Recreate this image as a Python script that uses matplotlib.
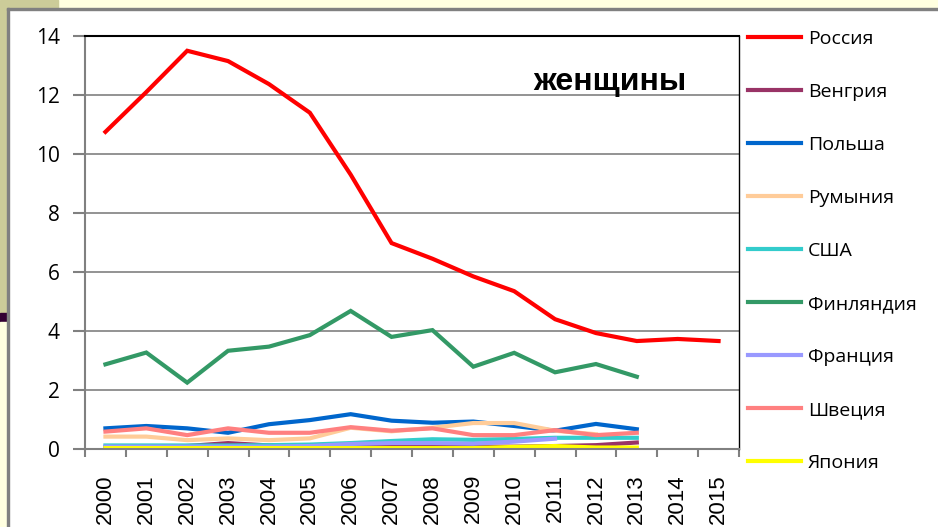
import numpy as np
import matplotlib
matplotlib.use('Agg')
import matplotlib.pyplot as plt
from matplotlib.patches import Rectangle

years = ['2000', '2001', '2002', '2003', '2004', '2005', '2006', '2007',
         '2008', '2009', '2010', '2011', '2012', '2013', '2014', '2015']

# значения (женщины)
rossiya = [10.75, 12.1, 13.5, 13.15, 12.37, 11.4, 9.3, 6.98, 6.45, 5.85, 5.35, 4.4, 3.93, 3.66, 3.73, 3.66]
vengriya = [0.05, 0.05, 0.1, 0.2, 0.12, 0.1, 0.1, 0.08, 0.08, 0.08, 0.08, 0.1, 0.13, 0.22]
polsha = [0.7, 0.78, 0.7, 0.55, 0.84, 0.98, 1.18, 0.96, 0.89, 0.93, 0.78, 0.62, 0.85, 0.67]
rumyniya = [0.42, 0.42, 0.3, 0.36, 0.3, 0.36, 0.72, 0.6, 0.72, 0.88, 0.88, 0.62, 0.5]
ssha = [0.12, 0.12, 0.12, 0.12, 0.13, 0.15, 0.2, 0.27, 0.33, 0.31, 0.34, 0.38, 0.38, 0.38]
finlyandiya = [2.87, 3.27, 2.25, 3.33, 3.47, 3.86, 4.68, 3.8, 4.03, 2.79, 3.26, 2.6, 2.88, 2.45]
frantsiya = [0.08, 0.08, 0.08, 0.08, 0.08, 0.1, 0.17, 0.2, 0.2, 0.18, 0.25, 0.35]
shvetsiya = [0.59, 0.7, 0.47, 0.7, 0.55, 0.55, 0.74, 0.62, 0.7, 0.47, 0.47, 0.64, 0.47, 0.55]
yaponiya = [0.03, 0.03, 0.03, 0.03, 0.03, 0.03, 0.03, 0.03, 0.03, 0.03, 0.07, 0.1, 0.05, 0.05]

series = [
    ('Россия', rossiya, '#ff0000'),
    ('Венгрия', vengriya, '#993366'),
    ('Польша', polsha, '#0066cc'),
    ('Румыния', rumyniya, '#ffcc99'),
    ('США', ssha, '#33cccc'),
    ('Финляндия', finlyandiya, '#339966'),
    ('Франция', frantsiya, '#9999ff'),
    ('Швеция', shvetsiya, '#ff8080'),
    ('Япония', yaponiya, '#ffff00'),
]

W, H = 938, 527
fig = plt.figure(figsize=(W / 100, H / 100), dpi=100)
fig.patch.set_facecolor('white')

def px_rect(x0, y0, x1, y1, color):
    # прямоугольник фона слайда в пикселях (y сверху)
    fig.patches.append(Rectangle((x0 / W, 1 - y1 / H), (x1 - x0) / W, (y1 - y0) / H,
                                 transform=fig.transFigure, color=color, zorder=0))

px_rect(58, 0, W, 8, '#ffffe0')
px_rect(0, 0, 58, 8, '#cccc99')
px_rect(0, 8, 7, 313, '#cccc99')
px_rect(0, 313, 7, 322, '#330033')
px_rect(0, 322, 7, H, '#ffffe0')
px_rect(7, 8, W, 10, '#808080')
px_rect(7, 8, 9, H, '#808080')

ax = fig.add_axes([85 / W, 1 - 449 / H, (739 - 85) / W, (449 - 36) / H])
ax.set_facecolor('none')

x = np.arange(len(years))
for name, vals, col in series:
    ax.plot(x[:len(vals)], vals, color=col, lw=3, label=name, solid_joinstyle='miter')

ax.set_xlim(-0.5, len(years) - 0.5)
ax.set_ylim(0, 14)
ax.set_yticks(np.arange(0, 15, 2))
ax.yaxis.grid(True, color='#808080', lw=1.2)
ax.set_axisbelow(True)

ax.set_xticks(x)
ax.set_xticklabels(years, rotation=90, fontsize=16, family='Liberation Sans')
ax.set_xticks(np.arange(-0.5, len(years)), minor=True)
ax.tick_params(axis='x', which='major', length=0, pad=18)
ax.tick_params(axis='x', which='minor', length=6, width=1.5, color='#808080')
ax.tick_params(axis='y', length=9, width=1.5, color='#808080', pad=9)
for lab in ax.get_yticklabels():
    lab.set_fontsize(15)
    lab.set_family('Open Sans')

ax.spines['left'].set_color('#808080')
ax.spines['bottom'].set_color('#808080')
ax.spines['left'].set_linewidth(1.5)
ax.spines['bottom'].set_linewidth(1.5)
ax.spines['top'].set_color('black')
ax.spines['top'].set_linewidth(1.5)
ax.spines['right'].set_color('black')
ax.spines['right'].set_linewidth(1.0)

ax.text(0.803, 0.888, 'женщины', transform=ax.transAxes, ha='center', va='center',
        fontsize=23, fontweight='bold', family='Liberation Sans')

leg = fig.legend(loc='upper left', bbox_to_anchor=(748 / W, 1 - 30 / H), frameon=False,
                 prop={'family': 'Open Sans', 'size': 14},
                 handlelength=2.73, handletextpad=0.36, labelspacing=1.8,
                 borderpad=0, borderaxespad=0)
for h in leg.get_lines():
    h.set_linewidth(3)

fig.savefig('out.png', dpi=100)
